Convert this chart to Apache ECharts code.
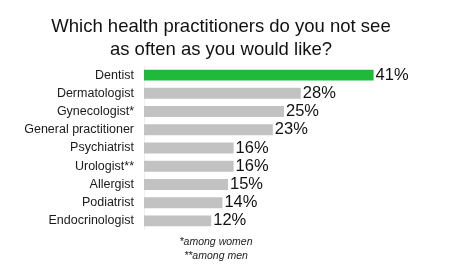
<!DOCTYPE html>
<html>
<head>
<meta charset="utf-8">
<script src="https://cdn.jsdelivr.net/npm/echarts@6/dist/echarts.min.js"></script>
<style>
html,body{margin:0;padding:0;background:#fff;}
#c{width:454px;height:274px;}
</style>
</head>
<body>
<div id="c"></div>
<script>
const categories = ["Dentist","Dermatologist","Gynecologist*","General practitioner","Psychiatrist","Urologist**","Allergist","Podiatrist","Endocrinologist"];
const values = [41,28,25,23,16,16,15,14,12];
const highlight = "Dentist";
const titleText = "Which health practitioners do you not see\nas often as you would like?";
const footnotes = ["*among women","**among men"];

const chart = echarts.init(document.getElementById('c'), null, {renderer:'canvas'});
const FONT = 'Liberation Sans, Arial, sans-serif';
chart.setOption({
  animation:false,
  backgroundColor:'#ffffff',
  title:{
    text:titleText,
    left:216, top:10, textAlign:'center',
    textStyle:{fontFamily:FONT, fontSize:18.5, fontWeight:'normal', color:'#111', lineHeight:23}
  },
  grid:{left:144, top:66, width:280, height:164, containLabel:false},
  xAxis:{type:'value', min:0, max:50, show:false},
  yAxis:{
    type:'category', data:categories, inverse:true,
    axisLine:{show:true, lineStyle:{color:'#eeeeee', width:1}},
    axisTick:{show:false},
    axisLabel:{fontFamily:FONT, fontSize:12.5, color:'#1a1a1a', margin:10}
  },
  series:[{
    type:'bar',
    data:values.map((v,i)=>({value:v, itemStyle:{color: categories[i]===highlight ? '#1fbb38' : '#c2c2c2'}})),
    barWidth:'60%',
    label:{show:true, position:'right', distance:2, formatter:'{c}%', fontFamily:FONT, fontSize:16.5, color:'#111'}
  }],
  graphic: footnotes.map((t,i)=>({
    type:'text', x:216, y:242 + i*14,
    style:{text:t, textAlign:'center', textVerticalAlign:'middle', font:'italic 10.5px Liberation Sans, Arial, sans-serif', fill:'#222'}
  }))
});
</script>
</body>
</html>
